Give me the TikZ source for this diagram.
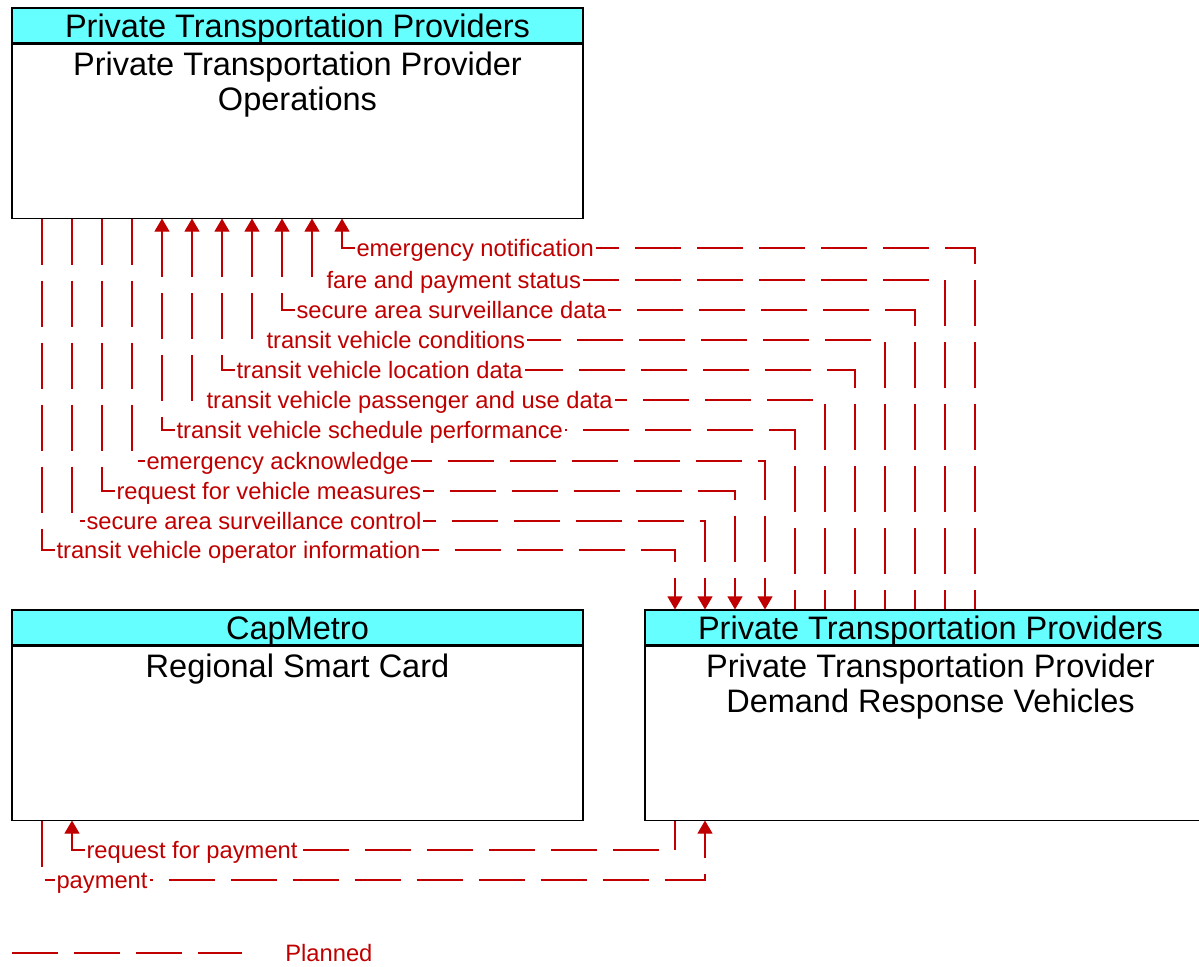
\documentclass[tikz,border=0pt]{standalone}
\usepackage{fontspec}
\setmainfont{Liberation Sans}
\usetikzlibrary{arrows.meta, positioning}
\definecolor{flowred}{HTML}{C00000}
\definecolor{headcyan}{HTML}{66FFFF}

\begin{document}
\begin{tikzpicture}[
    >={Triangle[width=0.3cm, length=0.26cm]},
    boxhead/.style={draw=black, fill=headcyan, line width=0.6pt, minimum width=11.42cm,
                    minimum height=0.7cm, inner sep=0pt, text height=0.466cm, text depth=0pt,
                    font=\fontsize{18.5}{19.9}\selectfont},
    boxbody/.style={draw=black, fill=white, line width=0.6pt, minimum width=11.42cm,
                    minimum height=3.48cm, inner sep=0pt},
    boxtext/.style={anchor=north, inner sep=0pt, align=center, font=\fontsize{18.5}{19.9}\selectfont},
    flow/.style={flowred, line width=0.6pt, dash pattern=on 0.92cm off 0.32cm},
    lbl/.style={anchor=base west, xshift=0.24cm, yshift=-0.17cm, fill=white, inner xsep=0.04cm,
                inner ysep=0.06cm, text=flowred, font=\fontsize{13.5}{16}\selectfont},
    legendtxt/.style={anchor=base west, yshift=-0.17cm, inner sep=0pt, text=flowred,
                      font=\fontsize{13.5}{16}\selectfont}
  ]
  \useasboundingbox (0,0) rectangle (23.98,-19.34);

  % Boxes
  \node[boxhead] (opshead) at (5.95,-0.51) {Private Transportation Providers};
  \node[boxbody, below=0pt of opshead] (ops) {};
  \node[boxtext, below=0.17cm of ops.north] (opstext) {Private Transportation Provider\\Operations};

  \node[boxhead] (cardhead) at (5.95,-12.55) {CapMetro};
  \node[boxbody, below=0pt of cardhead] (card) {};
  \node[boxtext, below=0.17cm of card.north] (cardtext) {Regional Smart Card};

  \node[boxhead] (drvhead) at (18.61,-12.55) {Private Transportation Providers};
  \node[boxbody, below=0pt of drvhead] (drv) {};
  \node[boxtext, below=0.17cm of drv.north] (drvtext) {Private Transportation Provider\\Demand Response Vehicles};

  % Flows up to operations
  \foreach \tx/\dx/\y/\txt in {
      6.84/19.5/-4.96/emergency notification,
      6.24/18.9/-5.6/fare and payment status,
      5.64/18.3/-6.2/secure area surveillance data,
      5.04/17.7/-6.8/transit vehicle conditions,
      4.44/17.1/-7.4/transit vehicle location data,
      3.84/16.5/-8.0/transit vehicle passenger and use data,
      3.24/15.9/-8.6/transit vehicle schedule performance} {
    \draw[flow, <-] (\tx,0 |- ops.south) |- node[lbl] {\txt} (\dx,\y) -- (\dx,0 |- drvhead.north);
  }

  % Flows down to vehicles
  \foreach \tx/\dx/\y/\txt in {
      2.64/15.3/-9.22/emergency acknowledge,
      2.04/14.7/-9.82/request for vehicle measures,
      1.44/14.1/-10.42/secure area surveillance control,
      0.84/13.5/-11.0/transit vehicle operator information} {
    \draw[flow, ->] (\tx,0 |- ops.south) |- node[lbl] {\txt} (\dx,\y) -- (\dx,0 |- drvhead.north);
  }

  % Smart card flows
  \draw[flow, <-] (1.44,0 |- card.south) |- node[lbl] {request for payment} (13.5,-17.0) -- (13.5,0 |- drv.south);
  \draw[flow, ->] (0.84,0 |- card.south) |- node[lbl] {payment} (14.1,-17.6) -- (14.1,0 |- drv.south);

  % Legend
  \coordinate (legstart) at (0.24,-19.06);
  \node[legendtxt] (legend) at (5.7,-19.06) {Planned};
  \draw[flow] (legstart) -- ++(4.6,0);
\end{tikzpicture}
\end{document}
